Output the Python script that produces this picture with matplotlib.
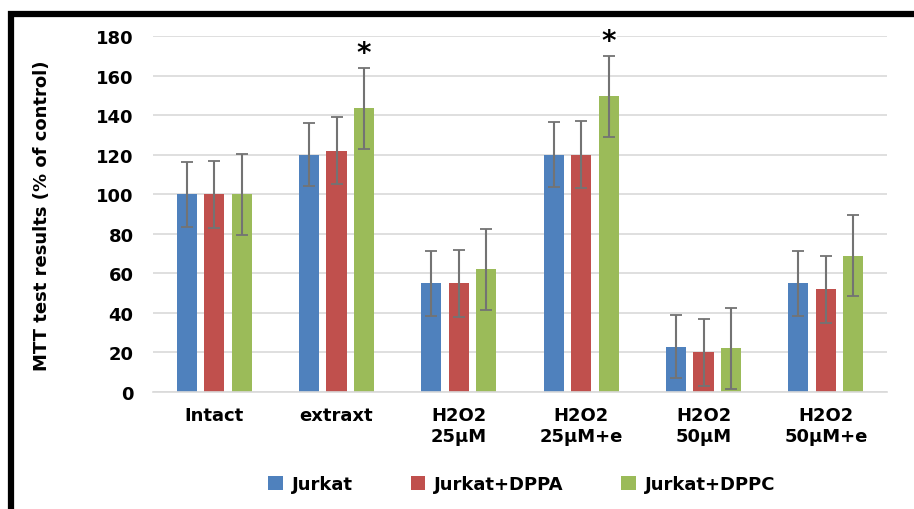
import numpy as np
import matplotlib
matplotlib.use("Agg")
import matplotlib.pyplot as plt
from matplotlib.patches import Rectangle

categories = ["Intact", "extraxt", "H2O2\n25\u00b5M", "H2O2\n25\u00b5M+e", "H2O2\n50\u00b5M", "H2O2\n50\u00b5M+e"]
series = ["Jurkat", "Jurkat+DPPA", "Jurkat+DPPC"]
jurkat = [100, 120, 55, 120, 23, 55]
jurkat_dppa = [100, 122, 55, 120, 20, 52]
jurkat_dppc = [100, 143.5, 62, 149.5, 22, 69]
err_jurkat = [16.5, 16, 16.5, 16.5, 16, 16.5]
err_dppa = [17, 17, 17, 17, 17, 17]
err_dppc = [20.5, 20.5, 20.5, 20.5, 20.5, 20.5]
stars = [1, 3]  # groups where DPPC is significant
yticks = [0, 20, 40, 60, 80, 100, 120, 140, 160, 180]

colors = ["#4f81bd", "#c0504d", "#9bbb59"]

fig = plt.figure(figsize=(9.14, 5.10), dpi=100)
ax = fig.add_axes([0.1674, 0.2294, 0.8031, 0.6981])

x = np.arange(len(categories))
offs = [-0.225, 0, 0.225]
w = 0.165
vals = [jurkat, jurkat_dppa, jurkat_dppc]
errs = [err_jurkat, err_dppa, err_dppc]
for i in range(3):
    ax.bar(x + offs[i], vals[i], w, color=colors[i], label=series[i], zorder=2,
           yerr=errs[i], error_kw=dict(ecolor="#737373", elinewidth=1.5, capsize=4, capthick=1.3))

for g in stars:
    top = jurkat_dppc[g] + err_dppc[g]
    ax.text(g + offs[2], top + 7.5, "*", ha="center", va="center", fontsize=20, fontweight="bold",
            bbox=dict(facecolor="white", edgecolor="none", pad=1), zorder=1, clip_on=False)

ax.set_xlim(-0.5, 5.5)
ax.set_ylim(0, 180)
ax.set_yticks(yticks)
ax.set_xticks(x)
ax.set_xticklabels(categories, fontsize=13, fontweight="bold", linespacing=1.2)
ax.tick_params(axis="y", labelsize=13, length=0, pad=14)
ax.tick_params(axis="x", length=0, pad=10)
for lab in ax.get_yticklabels():
    lab.set_fontweight("bold")
ax.grid(axis="y", color="#d9d9d9", linewidth=1.2, zorder=0)
ax.set_axisbelow(True)
for s in ["top", "right", "left"]:
    ax.spines[s].set_visible(False)
ax.spines["bottom"].set_color("#d9d9d9")
ax.spines["bottom"].set_linewidth(1.2)

fig.text(0.046, 0.576, "MTT test results (% of control)", rotation=90, ha="center", va="center",
         fontsize=13, fontweight="semibold")

fig.legend(loc="center", bbox_to_anchor=(0.571, 0.049), ncol=3, frameon=False,
           prop=dict(size=13, weight="bold"), handlelength=0.8, handleheight=0.8,
           columnspacing=3.2, handletextpad=0.5)

# frame
fig.patches.append(Rectangle((0.012, -0.1), 1.2, 1.07, transform=fig.transFigure,
                             fill=False, edgecolor="black", linewidth=4.5))

fig.savefig("out.png", dpi=100)
